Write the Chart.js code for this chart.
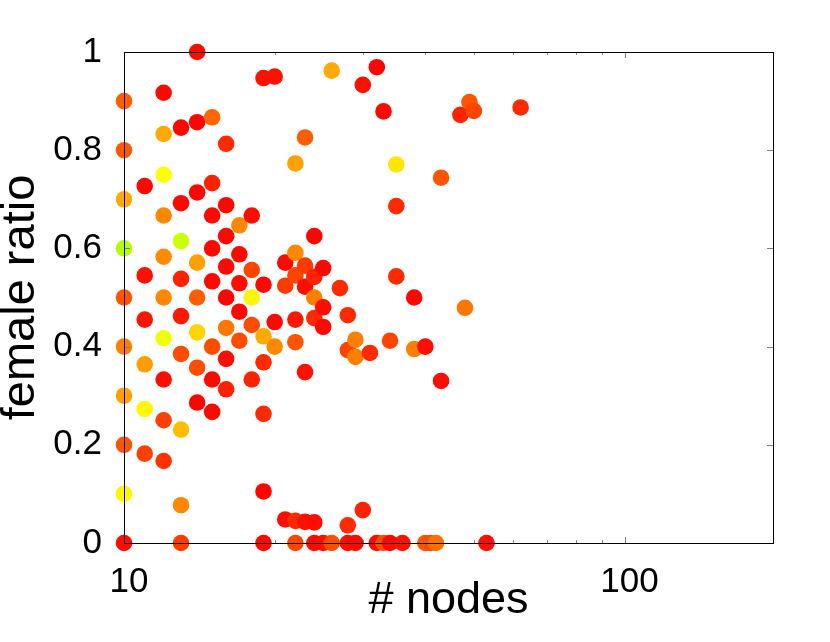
<!DOCTYPE html>
<html><head><meta charset="utf-8">
<script src="https://cdn.jsdelivr.net/npm/chart.js@4/dist/chart.umd.min.js"></script>
<style>html,body{margin:0;padding:0;background:#fff;}</style>
</head><body>
<canvas id="c" width="830" height="642"></canvas>
<script>
// # nodes (x), female ratio (y), colour value (palette hue) per point
const nodes = [
  10,10,10,10,10,10,10,10,10,10,
  11,11,11,11,11,11,
  12,12,12,12,12,12,12,12,12,12,
  13,13,13,13,13,13,13,13,13,
  14,14,14,14,14,14,14,14,
  15,15,15,15,15,15,15,15,
  16,16,16,16,16,16,16,16,
  17,17,17,17,17,
  18,18,18,18,18,
  19,19,19,19,19,19,19,
  20,20,20,
  21,21,21,
  22,22,22,22,22,22,22,
  23,23,23,23,23,
  24,24,24,24,24,24,
  25,25,25,25,
  26,26, 27, 28,28,28,28, 29,29,29, 30,30, 31, 32,32, 33,33, 34,34,
  35,35,35, 36, 38,38, 40,40, 41, 42, 43,43, 47, 48, 49, 50, 53, 62
];
const femaleRatio = [
  0.9,0.8,0.7,0.6,0.5,0.4,0.3,0.2,0.1,0,
  0.727,0.545,0.455,0.364,0.273,0.182,
  0.917,0.833,0.75,0.667,0.583,0.5,0.417,0.333,0.25,0.167,
  0.846,0.692,0.615,0.538,0.462,0.385,0.231,0.077,0,
  1,0.857,0.714,0.571,0.5,0.429,0.357,0.286,
  0.867,0.733,0.667,0.6,0.533,0.4,0.333,0.267,
  0.813,0.688,0.625,0.563,0.5,0.438,0.375,0.313,
  0.647,0.588,0.529,0.471,0.412,
  0.667,0.556,0.5,0.444,0.333,
  0.947,0.526,0.421,0.368,0.263,0.105,0,
  0.95,0.45,0.4,
  0.571,0.524,0.048,
  0.773,0.591,0.545,0.455,0.409,0.045,0,
  0.826,0.565,0.522,0.348,0.043,
  0.625,0.542,0.5,0.458,0.042,0,
  0.56,0.48,0.44,0,
  0.962,0, 0.519, 0.464,0.393,0.036,0, 0.414,0.379,0, 0.933,0.067, 0.387, 0.969,0, 0.879,0, 0.412,0,
  0.771,0.686,0.543, 0, 0.5,0.395, 0.4,0, 0, 0, 0.744,0.33, 0.872, 0.479, 0.898, 0.88, 0, 0.887
];
const tone = [
  22,21,40,78,20,30,38,20,58,3,
  2,4,5,37,58,15,
  2,40,60,32,33,32,63,3,15,12,
  2,2,72,8,6,18,45,32,14,
  2,1,1,38,22,50,18,1,
  24,8,2,2,2,18,2,2,
  10,2,2,2,1,28,3,8,
  32,2,3,2,18,
  3,16,58,18,8,
  4,2,40,10,10,1,2,
  4,2,32,
  2,14,3,
  38,32,16,6,20,10,16,
  22,14,3,4,4,
  1,8,30,10,3,2,
  2,3,2,3,
  40,18, 10, 10,16,10,3, 30,30,2, 4,8, 10, 1,2, 2,18, 16,2,
  54,10,10, 4, 2,30, 3,20, 18, 26, 20,3, 8, 28, 20, 16, 3, 10
];
const xTickLabels = [10, 100];
const xMinorTicks = [20, 30, 40, 50, 60, 70, 80, 90];
const yTickValues = [0, 0.2, 0.4, 0.6, 0.8, 1];
const yTickLabels = ['0', '0.2', '0.4', '0.6', '0.8', '1'];

const FONT = "'Liberation Sans', Arial, Helvetica, sans-serif";

const framePlugin = {
  id: 'frame',
  afterDatasetsDraw(chart) {
    const {ctx, chartArea: a, scales: {x, y}} = chart;
    ctx.save();
    ctx.strokeStyle = '#808080';
    ctx.lineWidth = 1;
    ctx.beginPath();
    xMinorTicks.forEach(v => {
      const px = Math.round(x.getPixelForValue(v)) + 0.5;
      ctx.moveTo(px, a.bottom); ctx.lineTo(px, a.bottom - 3);
      ctx.moveTo(px, a.top); ctx.lineTo(px, a.top + 3);
    });
    xTickLabels.forEach(v => {
      const px = Math.round(x.getPixelForValue(v)) + 0.5;
      ctx.moveTo(px, a.bottom); ctx.lineTo(px, a.bottom - 6);
      ctx.moveTo(px, a.top); ctx.lineTo(px, a.top + 6);
    });
    yTickValues.forEach(v => {
      const py = Math.round(y.getPixelForValue(v)) + 0.5;
      ctx.moveTo(a.left, py); ctx.lineTo(a.left + 6, py);
      ctx.moveTo(a.right, py); ctx.lineTo(a.right - 6, py);
    });
    ctx.stroke();
    ctx.strokeStyle = '#000';
    ctx.lineWidth = 1;
    ctx.strokeRect(Math.round(a.left) + 0.5, Math.round(a.top) + 0.5,
                   Math.round(a.right - a.left), Math.round(a.bottom - a.top));
    ctx.restore();
  }
};

const points = nodes.map((n, i) => ({x: n, y: femaleRatio[i]}));
const colors = tone.map(h => `hsl(${h},100%,50%)`);

new Chart(document.getElementById('c'), {
  type: 'scatter',
  data: {
    datasets: [{
      data: points,
      pointBackgroundColor: colors,
      pointBorderWidth: 0,
      pointRadius: 8.3,
      pointHoverRadius: 8.3,
      clip: false
    }]
  },
  options: {
    responsive: false,
    animation: false,
    devicePixelRatio: 1,
    events: [],
    layout: {padding: {left: 0, right: 57, top: 52, bottom: 0}},
    plugins: {legend: {display: false}, tooltip: {enabled: false}},
    scales: {
      x: {
        type: 'logarithmic',
        position: 'bottom',
        min: 10,
        max: 198,
        grid: {display: false, drawTicks: false},
        border: {display: false},
        afterBuildTicks: s => { s.ticks = xTickLabels.map(v => ({value: v})); },
        afterFit: s => { s.height = 99; },
        ticks: {
          autoSkip: false, maxRotation: 0, minRotation: 0,
          padding: 18, labelOffset: 5, color: '#000',
          font: {family: FONT, size: 35},
          callback: v => String(v)
        },
        title: {
          display: true, text: '# nodes', color: '#000',
          font: {family: FONT, size: 45},
          padding: {top: 0, bottom: 14}
        }
      },
      y: {
        type: 'linear',
        min: 0, max: 1,
        grid: {display: false, drawTicks: false},
        border: {display: false},
        afterBuildTicks: s => { s.ticks = yTickValues.map(v => ({value: v})); },
        afterFit: s => { s.width = 124; },
        ticks: {
          autoSkip: false, padding: 22, color: '#000',
          font: {family: FONT, size: 35},
          callback: (v, i) => yTickLabels[i]
        },
        title: {
          display: true, text: 'female ratio', color: '#000',
          font: {family: FONT, size: 47, lineHeight: 0.8},
          padding: {top: 2, bottom: 0}
        }
      }
    }
  },
  plugins: [framePlugin]
});
</script>
</body></html>
